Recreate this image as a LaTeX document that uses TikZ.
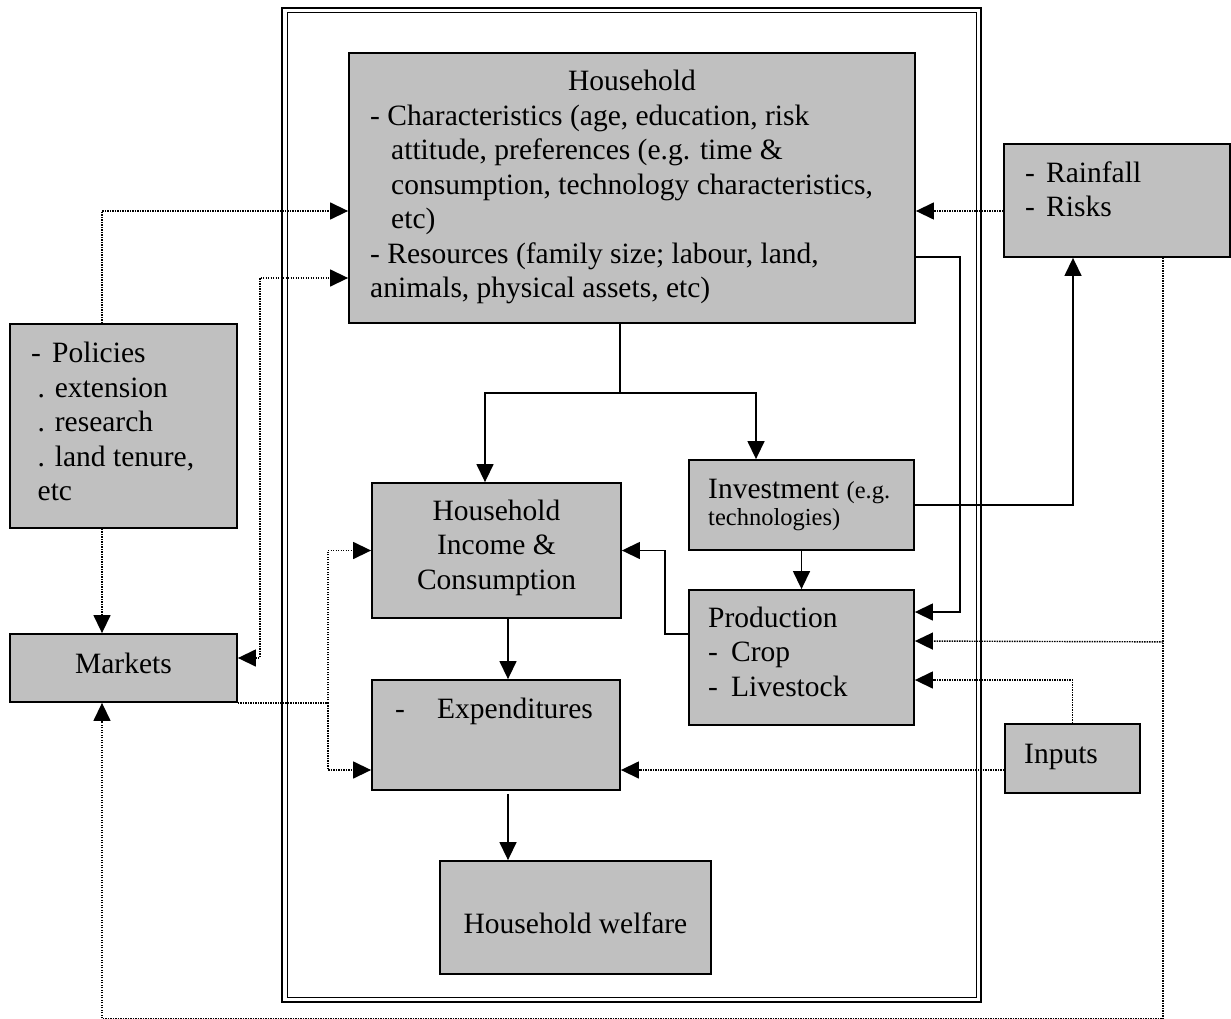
\documentclass[tikz,border=0pt]{standalone}
\usepackage{fontspec}
\setmainfont{Liberation Serif}
\usetikzlibrary{arrows.meta}
\definecolor{boxgray}{HTML}{C0C0C0}
\tikzstyle{box} = [draw, fill=boxgray, line width=1.8pt, inner sep=0pt]
\tikzstyle{txt} = [inner sep=0pt, align=left, font=\fontsize{29.5}{34.5}\selectfont]
\tikzstyle{connector} = [line width=1.4pt]
\tikzstyle{dotconnector} = [connector, dash pattern=on 1.4pt off 1.1pt]

\begin{document}
\begin{tikzpicture}[x=1pt, y=-1pt, >={Triangle[length=18pt,width=17pt]}]
                \useasboundingbox (0,0) rectangle (1231,1019);

                % frame round the household
                \draw [line width=2.5pt] (282,8) rectangle (981,1002);
                \draw [line width=1pt] (287,13) rectangle (976,997);

                \node (hh) [box, minimum width=566pt, minimum height=270pt] at (632,188) {};
                \node (rain) [box, minimum width=226pt, minimum height=113pt] at (1117,200.5) {};
                \node (pol) [box, minimum width=227pt, minimum height=204pt] at (123.5,426) {};
                \node (mkt) [box, minimum width=227pt, minimum height=68pt] at (123.5,668) {};
                \node (inc) [box, minimum width=249pt, minimum height=135pt] at (496.5,550.5) {};
                \node (inv) [box, minimum width=225pt, minimum height=90pt] at (801.5,505) {};
                \node (prod) [box, minimum width=225pt, minimum height=135pt] at (801.5,657.5) {};
                \node (exp) [box, minimum width=248pt, minimum height=110pt] at (496,735) {};
                \node (inp) [box, minimum width=135pt, minimum height=69pt] at (1072.5,758.5) {};
                \node (wel) [box, minimum width=271pt, minimum height=113pt] at (575.5,917.5) {};

                % texts (base = last line)
                \node (hhhead) [txt, anchor=base] at (632,91) {Household};
                \node (hhtxt) [txt, anchor=base west] at (370,297.5) {- Characteristics (age, education, risk\\
                    \hspace*{21pt}attitude, preferences (e.g. time \&\\
                    \hspace*{21pt}consumption, technology characteristics,\\
                    \hspace*{21pt}etc)\\
                    - Resources (family size; labour, land,\\
                    animals, physical assets, etc)};
                \node (raintxt) [txt, anchor=base west] at (1025,216.5) {\makebox[21pt][l]{-}Rainfall\\ \makebox[21pt][l]{-}Risks};
                \node (poltxt) [txt, anchor=base west] at (31,500.5) {\makebox[21pt][l]{-}Policies\\
                    \hspace*{6.5pt}. extension\\ \hspace*{6.5pt}. research\\
                    \hspace*{6.5pt}. land tenure,\\ \hspace*{6.5pt}etc};
                \node (mkttxt) [txt, anchor=base] at (123.5,673) {Markets};
                \node (inctxt) [txt, align=center, anchor=base] at (496.5,589) {Household\\ Income \&\\ Consumption};
                \node (invtxt) [txt, anchor=base west] at (708,525) {Investment {\fontsize{24.5}{27}\selectfont (e.g.}\\[-7.5pt]
                    {\fontsize{24.5}{27}\selectfont technologies)}};
                \node (prodtxt) [txt, anchor=base west] at (708,696) {Production\\ \makebox[23pt][l]{-}Crop\\ \makebox[23pt][l]{-}Livestock};
                \node (exptxt) [txt, anchor=base west] at (395,718) {\makebox[42pt][l]{-}Expenditures};
                \node (inptxt) [txt, anchor=base west] at (1024,763) {Inputs};
                \node (weltxt) [txt, anchor=base] at (575.5,933) {Household welfare};

                % solid links
                \draw [connector,->] ([xshift=-12pt]hh.south) -- ++(0,69) -| ([xshift=-11.5pt]inc.north);
                \draw [connector,->] ([xshift=-12pt]hh.south) ++(0,69) -| ([xshift=-45.5pt]inv.north);
                \draw [connector,->] ([xshift=11.5pt]inc.south) -- ([xshift=12pt]exp.north);
                \draw [connector,->] ([xshift=12pt,yshift=-3pt]exp.south) -- ([xshift=-67.5pt]wel.north);
                \draw [connector,->] (inv.south) -- (prod.north);
                \draw [connector,->] ([yshift=23.5pt]prod.west) -- ++(-23,0) |- (inc.east);
                \draw [connector,->] ([yshift=-69pt]hh.east) -- ++(44,0) |- ([yshift=45.5pt]prod.east);
                \draw [connector,->] (inv.east) -| ([xshift=-44pt]rain.south);

                % dotted links
                \draw [dotconnector,->] ([xshift=-21.5pt]pol.north) |- ([yshift=-23pt]hh.west);
                \draw [dotconnector,<->] ([yshift=10pt]mkt.east) -- ++(22,0) |- ([yshift=-90pt]hh.west);
                \draw [dotconnector,->] ([xshift=-21.5pt]pol.south) -- ([xshift=-21.5pt]mkt.north);
                \draw [dotconnector,->] (mkt.south east) -- ++(90,0) |- (inc.west);
                \draw [dotconnector,->] (mkt.south east) ++(90,0) |- ([yshift=-35pt]exp.west);
                \draw [dotconnector,->] ([yshift=-10.5pt]rain.west) -- ([yshift=-23pt]hh.east);
                \draw [dotconnector,->] ([xshift=46pt]rain.south) -- ++(0,761) -| ([xshift=-21.5pt]mkt.south);
                \draw [dotconnector,->] ([xshift=46pt]rain.south) ++(0,384) -- ([yshift=16.5pt]prod.east);
                \draw [dotconnector,->] (inp.north) |- ([yshift=-22.5pt]prod.east);
                \draw [dotconnector,->] ([yshift=-11.5pt]inp.west) -- ([yshift=-35pt]exp.east);
            \end{tikzpicture}
\end{document}
